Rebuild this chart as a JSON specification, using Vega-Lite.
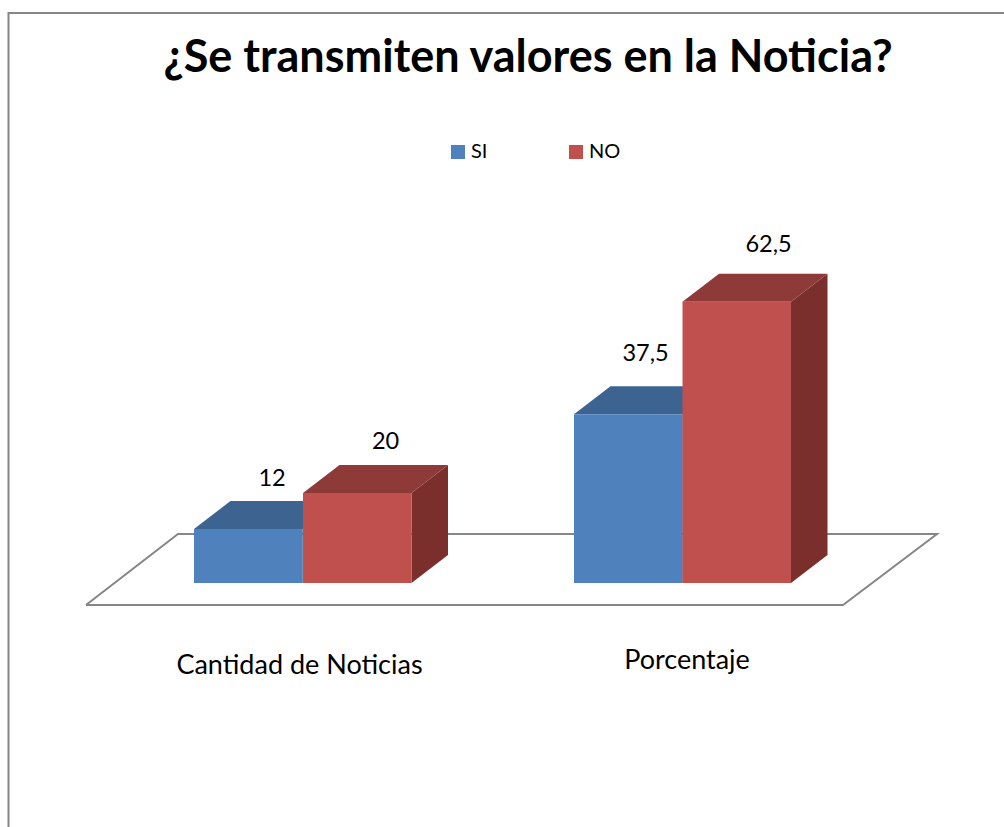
{
"$schema":"https://vega.github.io/schema/vega-lite/v6.json",
"width":1000,"height":820,
"autosize":{"type":"none"},
"padding":{"left":8.5,"top":13,"right":0,"bottom":0},
"background":"white",
"view":{"stroke":"#868686","strokeWidth":2,"fill":"white"},
"title":{"text":"¿Se transmiten valores en la Noticia?","font":"Lato","fontSize":45,"fontWeight":"bold","color":"#000000","anchor":"start","frame":"group","dx":155,"offset":-104,"baseline":"alphabetic"},
"data":{"values":[
{"categoria":"Cantidad de Noticias","serie":"SI","valor":12},
{"categoria":"Cantidad de Noticias","serie":"NO","valor":20},
{"categoria":"Porcentaje","serie":"SI","valor":37.5},
{"categoria":"Porcentaje","serie":"NO","valor":62.5}
]},
"transform":[
{"calculate":"datum.categoria+'|'+datum.serie","as":"key"},
{"calculate":"{'Cantidad de Noticias|SI':194,'Cantidad de Noticias|NO':303,'Porcentaje|SI':574,'Porcentaje|NO':682.5}[datum.key]","as":"xl"},
{"calculate":"datum.xl+108.5","as":"xr"},
{"calculate":"0","as":"base"},
{"calculate":"36.5","as":"d"},
{"calculate":"6.22","as":"e"}
],
"layer":[
{"data":{"values":[{"elemento":"plano"}]},
 "transform":[
 {"calculate":"[86,843,937,178,86]","as":"px"},
 {"calculate":"[-4.89,-4.89,10.89,10.89,-4.89]","as":"pv"},
 {"calculate":"[1,2,3,4,5]","as":"orden"},
 {"flatten":["px","pv","orden"]}],
 "mark":{"type":"line","stroke":"#868686","strokeWidth":2,"strokeJoin":"miter"},
 "encoding":{
 "x":{"field":"px","type":"quantitative","scale":{"domain":[8.5,1008.5]},"axis":null},
 "y":{"field":"pv","type":"quantitative","scale":{"domain":[-55.56,126.67]},"axis":null},
 "order":{"field":"orden","type":"quantitative"}}},
{"transform":[
 {"calculate":"[datum.xr,datum.xr+datum.d]","as":"sx"},
 {"calculate":"[0,datum.e]","as":"s0"},
 {"calculate":"[datum.valor,datum.valor+datum.e]","as":"s1"},
 {"flatten":["sx","s0","s1"]}],
 "mark":{"type":"area","interpolate":"linear"},
 "encoding":{
 "x":{"field":"sx","type":"quantitative","scale":{"domain":[8.5,1008.5]},"axis":null},
 "y":{"field":"s0","type":"quantitative","scale":{"domain":[-55.56,126.67]},"axis":null},
 "y2":{"field":"s1"},
 "detail":{"field":"key"},
 "color":{"field":"serie","type":"nominal","scale":{"domain":["SI","NO"],"range":["#2F5380","#7B2F2D"]},"legend":null}}},
{"transform":[
 {"calculate":"[datum.xl,datum.xl+datum.d,datum.xr,datum.xr+datum.d]","as":"tx"},
 {"calculate":"[datum.valor,datum.valor,datum.valor,datum.valor+datum.e]","as":"t0"},
 {"calculate":"[datum.valor,datum.valor+datum.e,datum.valor+datum.e,datum.valor+datum.e]","as":"t1"},
 {"flatten":["tx","t0","t1"]}],
 "mark":{"type":"area","interpolate":"linear"},
 "encoding":{
 "x":{"field":"tx","type":"quantitative","scale":{"domain":[8.5,1008.5]},"axis":null},
 "y":{"field":"t0","type":"quantitative","scale":{"domain":[-55.56,126.67]},"axis":null},
 "y2":{"field":"t1"},
 "detail":{"field":"key"},
 "color":{"field":"serie","type":"nominal","scale":{"domain":["SI","NO"],"range":["#3D6490","#8E3A38"]},"legend":null}}},
{"mark":{"type":"rect"},
 "encoding":{
 "x":{"field":"xl","type":"quantitative","scale":{"domain":[8.5,1008.5]},"axis":null},
 "x2":{"field":"xr"},
 "y":{"field":"valor","type":"quantitative","scale":{"domain":[-55.56,126.67]},"axis":null},
 "y2":{"field":"base"},
 "color":{"field":"serie","type":"nominal","scale":{"domain":["SI","NO"],"range":["#4F81BD","#C0504D"]},
  "legend":{"title":null,"orient":"none","legendX":439.5,"legendY":129,"direction":"horizontal","symbolType":"square","symbolSize":196,"symbolStrokeWidth":0,"labelFont":"Lato","labelFontSize":20,"labelColor":"#000000","labelOffset":3,"columnPadding":78}}}},
{"transform":[
 {"calculate":"{'Cantidad de Noticias|SI':272,'Cantidad de Noticias|NO':385.5,'Porcentaje|SI':645.5,'Porcentaje|NO':768.5}[datum.key]","as":"lx"},
 {"calculate":"{'Cantidad de Noticias|SI':23.0,'Cantidad de Noticias|NO':31.3,'Porcentaje|SI':50.9,'Porcentaje|NO':75.1}[datum.key]","as":"ly"},
 {"calculate":"replace(toString(datum.valor),'.',',')","as":"etiqueta"}],
 "mark":{"type":"text","font":"Lato","fontSize":23.5,"color":"#000000","align":"center","baseline":"middle"},
 "encoding":{
 "x":{"field":"lx","type":"quantitative","scale":{"domain":[8.5,1008.5]},"axis":null},
 "y":{"field":"ly","type":"quantitative","scale":{"domain":[-55.56,126.67]},"axis":null},
 "text":{"field":"etiqueta"}}},
{"transform":[
 {"filter":"datum.serie=='SI'"},
 {"calculate":"datum.categoria=='Porcentaje'?687:299.5","as":"cx"},
 {"calculate":"datum.categoria=='Porcentaje'?-17.3:-18.4","as":"cy"}],
 "mark":{"type":"text","font":"Lato","fontSize":27,"color":"#000000","align":"center","baseline":"middle"},
 "encoding":{
 "x":{"field":"cx","type":"quantitative","scale":{"domain":[8.5,1008.5]},"axis":null},
 "y":{"field":"cy","type":"quantitative","scale":{"domain":[-55.56,126.67]},"axis":null},
 "text":{"field":"categoria"}}}
],
"resolve":{"scale":{"color":"independent"}}
}
